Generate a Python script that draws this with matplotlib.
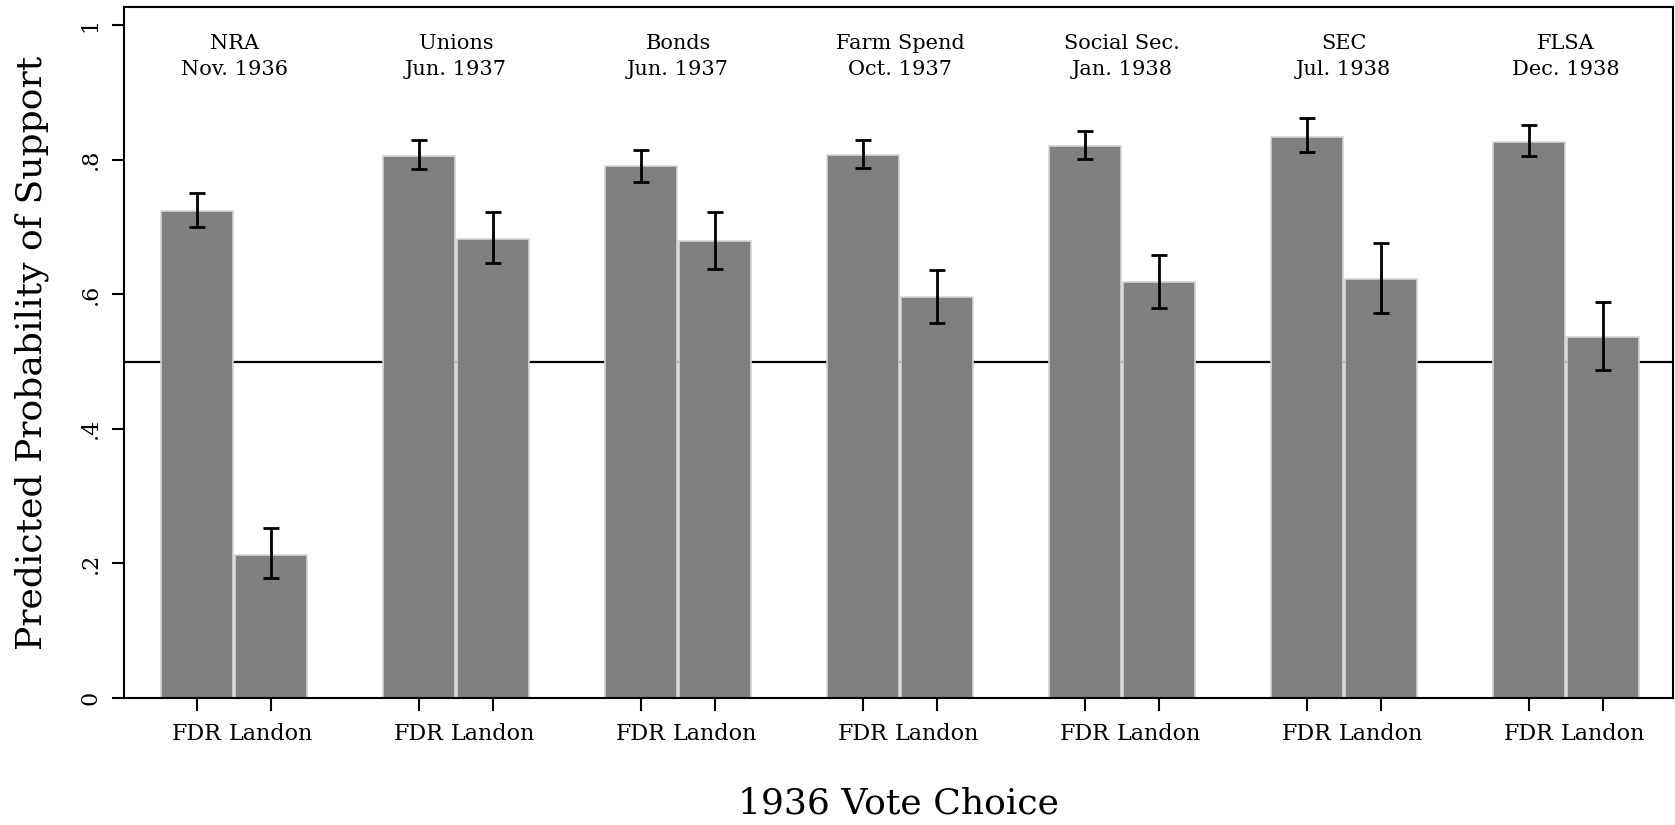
import matplotlib.pyplot as plt
import numpy as np

# data
groups = ["NRA\nNov. 1936", "Unions\nJun. 1937", "Bonds\nJun. 1937", "Farm Spend\nOct. 1937",
          "Social Sec.\nJan. 1938", "SEC\nJul. 1938", "FLSA\nDec. 1938"]
fdr = [0.724, 0.806, 0.790, 0.807, 0.821, 0.834, 0.826]
fdr_lo = [0.700, 0.786, 0.767, 0.788, 0.801, 0.811, 0.805]
fdr_hi = [0.751, 0.829, 0.814, 0.830, 0.843, 0.862, 0.851]
landon = [0.213, 0.682, 0.679, 0.596, 0.618, 0.622, 0.536]
landon_lo = [0.179, 0.646, 0.638, 0.558, 0.580, 0.572, 0.487]
landon_hi = [0.252, 0.722, 0.722, 0.636, 0.659, 0.676, 0.589]
yticks = [0, 0.2, 0.4, 0.6, 0.8, 1]
ytick_labels = ["0", ".2", ".4", ".6", ".8", "1"]

plt.rcParams['font.family'] = ['DejaVu Serif']

fig = plt.figure(figsize=(16.75, 8.25), dpi=100)
ax = fig.add_axes([0.074, 0.154, 0.9248, 0.8375])

x_fdr = np.arange(len(groups)) * 3
x_lan = x_fdr + 1

ax.axhline(0.5, color='black', linewidth=1.6, zorder=1)

bar_kw = dict(width=0.975, color='#808080', edgecolor='#d4d4d4', linewidth=1.2, zorder=2)
ax.bar(x_fdr, fdr, **bar_kw)
ax.bar(x_lan, landon, **bar_kw)

err_kw = dict(fmt='none', ecolor='black', elinewidth=2, capsize=5.5, capthick=2, zorder=3)
ax.errorbar(x_fdr, fdr, yerr=[np.array(fdr) - fdr_lo, np.array(fdr_hi) - fdr], **err_kw)
ax.errorbar(x_lan, landon, yerr=[np.array(landon) - landon_lo, np.array(landon_hi) - landon], **err_kw)

for xf, name in zip(x_fdr, groups):
    ax.text(xf + 0.5, 0.953, name, ha='center', va='center', fontsize=15, linespacing=1.45)

ax.set_xlim(-0.99, 19.95)
ax.set_ylim(0, 1.027)

xt = np.ravel(np.column_stack([x_fdr, x_lan]))
ax.set_xticks(xt)
ax.set_xticklabels(["FDR", "Landon"] * len(groups), fontsize=16)
ax.set_yticks(yticks)
ax.set_yticklabels(ytick_labels, fontsize=16, rotation=90, va='center')

ax.tick_params(length=9, width=1.5, pad=9)
ax.tick_params(axis='y', pad=7)
for s in ax.spines.values():
    s.set_linewidth(1.5)

ax.set_xlabel("1936 Vote Choice", fontsize=26, labelpad=30)
ax.set_ylabel("Predicted Probability of Support", fontsize=26, labelpad=22)

fig.savefig("out.png", dpi=100)
